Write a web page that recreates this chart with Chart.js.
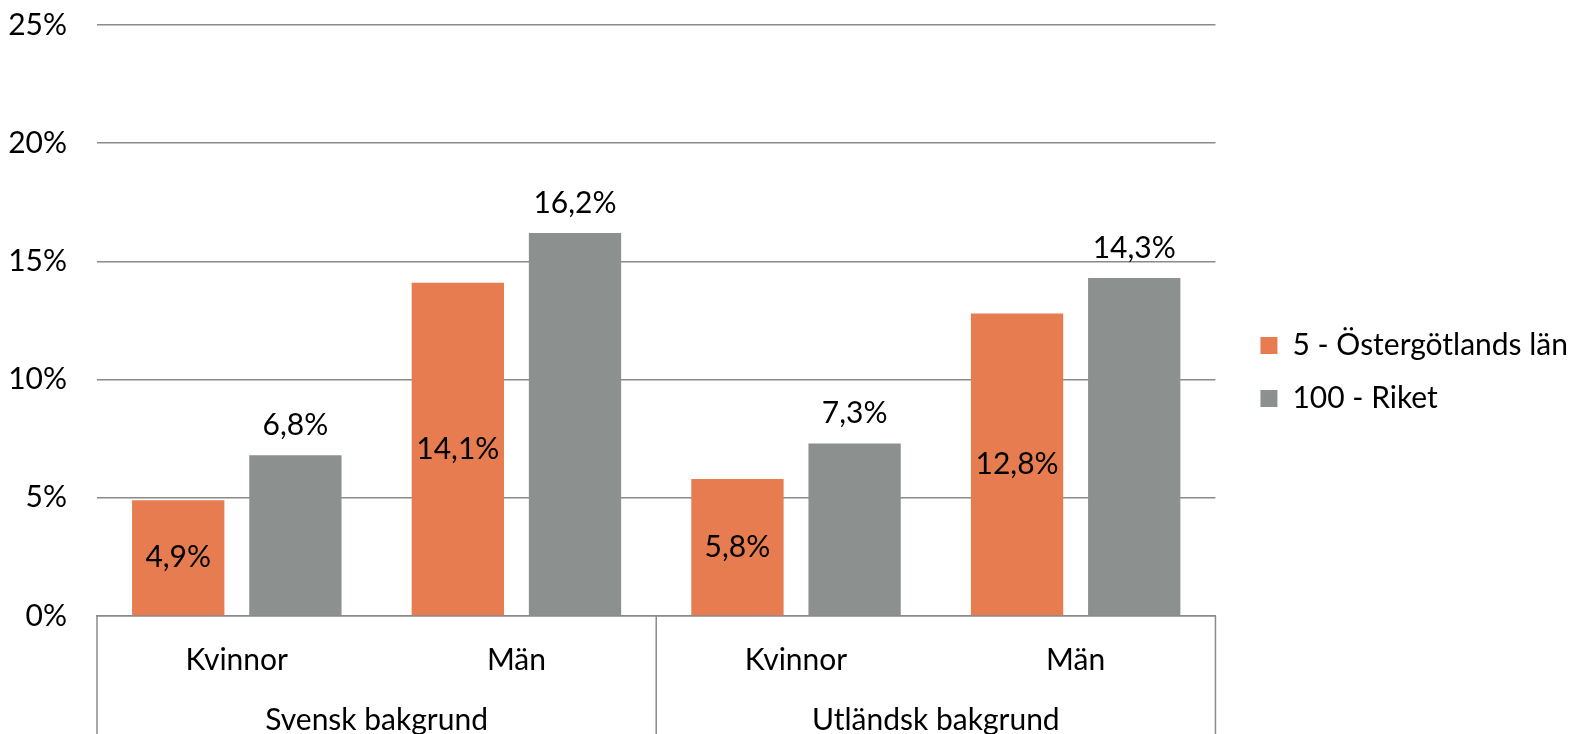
<!DOCTYPE html>
<html>
<head>
<meta charset="utf-8">
<script src="https://cdn.jsdelivr.net/npm/chart.js@4/dist/chart.umd.min.js"></script>
<style>
  html, body { margin: 0; padding: 0; background: #fff; }
  #wrap { width: 1571px; height: 734px; }
</style>
</head>
<body>
<div id="wrap"><canvas id="myChart" width="1571" height="734"></canvas></div>
<script>
// kategorier och värden
const kon = ['Kvinnor', 'Män', 'Kvinnor', 'Män'];
const bakgrund = ['Svensk bakgrund', 'Utländsk bakgrund'];
const ostergotland = [4.9, 14.1, 5.8, 12.8];
const riket = [6.8, 16.2, 7.3, 14.3];
const yTicks = [0, 5, 10, 15, 20, 25];

const ORANGE = '#e67c50';
const GRAY = '#8c918f';
const LINE = '#8a8a8a';
const FONT = 'Lato';
const FS = 30;

const fmt = v => v.toFixed(1).replace('.', ',') + '%';

// etiketter på staplarna
const barLabels = {
  id: 'barLabels',
  afterDatasetsDraw(chart) {
    const ctx = chart.ctx;
    ctx.save();
    ctx.font = FS + 'px ' + FONT;
    ctx.fillStyle = '#000';
    ctx.textAlign = 'center';
    ctx.textBaseline = 'middle';
    chart.data.datasets.forEach((ds, di) => {
      const meta = chart.getDatasetMeta(di);
      meta.data.forEach((bar, i) => {
        const txt = fmt(ds.data[i]);
        if (di === 0) {
          ctx.fillText(txt, bar.x, (bar.y + bar.base) / 2);
        } else {
          ctx.fillText(txt, bar.x, bar.y - 30);
        }
      });
    });
    ctx.restore();
  }
};

// vertikala linjer mellan grupperna under axeln
const groupLines = {
  id: 'groupLines',
  afterDraw(chart) {
    const s = chart.scales.x2;
    const ctx = chart.ctx;
    const xs = [s.left, (s.getPixelForTick(0) + s.getPixelForTick(1)) / 2, s.right];
    ctx.save();
    ctx.strokeStyle = LINE;
    ctx.lineWidth = 1.5;
    xs.forEach(x => {
      ctx.beginPath();
      ctx.moveTo(x, chart.chartArea.bottom);
      ctx.lineTo(x, chart.height);
      ctx.stroke();
    });
    ctx.restore();
  }
};

// flytta legenden lite åt höger/ner
const legendShift = {
  id: 'legendShift',
  afterLayout(chart) {
    const lg = chart.legend;
    lg.left += 22; lg.right += 22;
    lg.top += 5; lg.bottom += 5;
  }
};

const ctx = document.getElementById('myChart').getContext('2d');
const myChart = new Chart(ctx, {
  type: 'bar',
  data: {
    labels: kon,
    datasets: [{
      label: '5 - Östergötlands län',
      data: ostergotland,
      backgroundColor: ORANGE,
      categoryPercentage: 0.838,
      barPercentage: 0.788
    }, {
      label: '100 - Riket',
      data: riket,
      backgroundColor: GRAY,
      categoryPercentage: 0.838,
      barPercentage: 0.788
    }]
  },
  options: {
    responsive: false,
    animation: false,
    layout: { padding: { left: 0, top: 0, right: 15, bottom: 0 } },
    plugins: {
      legend: {
        position: 'right',
        labels: {
          color: '#000',
          font: { family: FONT, size: FS },
          boxWidth: 17,
          boxHeight: 17,
          padding: 23
        }
      },
      tooltip: { enabled: false }
    },
    scales: {
      y: {
        min: 0,
        max: 25,
        afterBuildTicks(scale) {
          scale.ticks = yTicks.map(v => ({ value: v }));
        },
        ticks: {
          color: '#000',
          font: { family: FONT, size: FS },
          padding: 30,
          callback: v => v + '%'
        },
        grid: { color: LINE, lineWidth: 1.5, drawTicks: false },
        border: { display: false },
        afterFit(scale) { scale.width = 97; scale.paddingTop = 25; }
      },
      x: {
        weight: 0,
        grid: { display: false },
        border: { display: true, color: LINE, width: 1.5 },
        ticks: {
          color: '#000',
          font: { family: FONT, size: FS },
          padding: 18
        },
        afterFit(scale) { scale.height = 60; }
      },
      x2: {
        type: 'category',
        labels: bakgrund,
        position: 'bottom',
        weight: 1,
        offset: true,
        grid: { display: false },
        border: { display: false },
        ticks: {
          color: '#000',
          font: { family: FONT, size: FS },
          padding: 18
        },
        afterFit(scale) { scale.height = 58; }
      }
    }
  },
  plugins: [barLabels, groupLines, legendShift]
});
</script>
</body>
</html>
